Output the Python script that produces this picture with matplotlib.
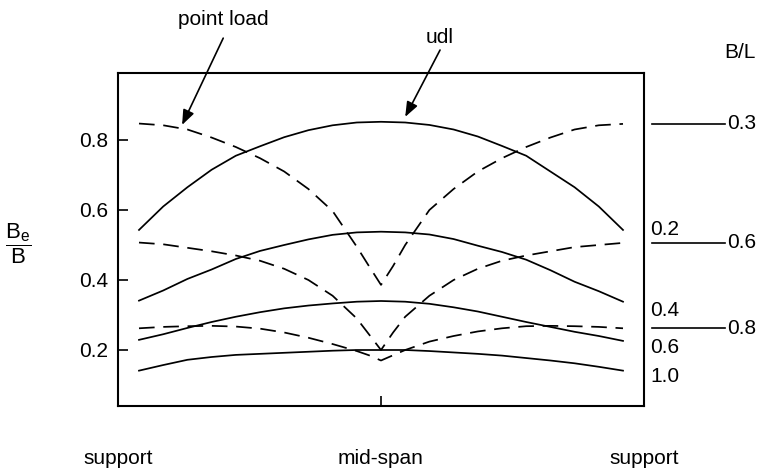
import numpy as np
import matplotlib
matplotlib.use("Agg")
import matplotlib.pyplot as plt

plt.rcParams['font.family'] = ['Liberation Sans', 'DejaVu Sans']
plt.rcParams['mathtext.fontset'] = 'custom'
plt.rcParams['mathtext.rm'] = 'Liberation Sans'
plt.rcParams['mathtext.it'] = 'Liberation Sans'

# span position: 0 = support, 0.5 = mid-span, 1 = support
pos_udl = [0.0, 0.05, 0.1, 0.15, 0.2, 0.25, 0.3, 0.35, 0.4, 0.45, 0.5,
           0.55, 0.6, 0.65, 0.7, 0.75, 0.8, 0.85, 0.9, 0.95, 1.0]
udl_02 = [0.543, 0.61, 0.665, 0.715, 0.755, 0.782, 0.808, 0.828, 0.842, 0.85, 0.852,
          0.85, 0.843, 0.83, 0.81, 0.783, 0.755, 0.71, 0.665, 0.61, 0.543]
udl_04 = [0.341, 0.37, 0.403, 0.43, 0.46, 0.483, 0.50, 0.516, 0.529, 0.536, 0.538,
          0.536, 0.53, 0.517, 0.498, 0.48, 0.458, 0.428, 0.395, 0.368, 0.338]
udl_06 = [0.229, 0.245, 0.263, 0.28, 0.295, 0.308, 0.319, 0.327, 0.333, 0.338, 0.34,
          0.338, 0.332, 0.322, 0.31, 0.295, 0.28, 0.266, 0.252, 0.24, 0.226]
udl_10 = [0.141, 0.157, 0.172, 0.18, 0.186, 0.189, 0.192, 0.195, 0.198, 0.2, 0.2,
          0.2, 0.197, 0.193, 0.189, 0.184, 0.177, 0.17, 0.162, 0.152, 0.141]

pos_pl = [0.0, 0.05, 0.1, 0.15, 0.2, 0.25, 0.3, 0.35, 0.4, 0.45, 0.475, 0.5,
          0.525, 0.55, 0.6, 0.65, 0.7, 0.75, 0.8, 0.85, 0.9, 0.95, 1.0]
pl_03 = [0.847, 0.842, 0.83, 0.807, 0.78, 0.748, 0.71, 0.66, 0.597, 0.495, 0.44, 0.386,
         0.44, 0.50, 0.60, 0.66, 0.71, 0.748, 0.78, 0.807, 0.83, 0.842, 0.846]
pl_06 = [0.507, 0.502, 0.492, 0.482, 0.47, 0.455, 0.432, 0.40, 0.355, 0.29, 0.245, 0.20,
         0.25, 0.295, 0.355, 0.40, 0.432, 0.455, 0.47, 0.482, 0.494, 0.50, 0.506]
pl_08 = [0.262, 0.266, 0.268, 0.269, 0.267, 0.261, 0.25, 0.235, 0.217, 0.197, 0.185, 0.17,
         0.185, 0.20, 0.224, 0.24, 0.253, 0.262, 0.268, 0.269, 0.268, 0.266, 0.262]

udl_labels = ['0.2', '0.4', '0.6', '1.0']
udl_label_y = [0.543, 0.314, 0.206, 0.123]
pl_labels = ['0.3', '0.6', '0.8']

yticks = [0.2, 0.4, 0.6, 0.8]
xtick_labels = ['support', 'mid-span', 'support']

fig = plt.figure(figsize=(7.63, 4.68), dpi=100)
ax = fig.add_axes([118 / 763, 1 - 406 / 468, 526 / 763, 333 / 468])
ax.set_xlim(-0.0434, 1.0434)
ax.set_ylim(0.04, 0.9914)

for s in ax.spines.values():
    s.set_linewidth(1.5)

lw = 1.25
for ys in [udl_02, udl_04, udl_06, udl_10]:
    ax.plot(pos_udl, ys, color='black', lw=lw)
for ys in [pl_03, pl_06, pl_08]:
    ax.plot(pos_pl, ys, color='black', lw=lw, dashes=(9, 5))

ax.set_yticks(yticks)
ax.set_yticklabels([f'{v:.1f}' for v in yticks])
ax.set_xticks([-0.0434, 0.5, 1.0434])
ax.set_xticklabels(xtick_labels)
ax.tick_params(axis='y', direction='in', length=7, width=1.2, pad=7, labelsize=15)
ax.tick_params(axis='x', direction='in', length=7, width=1.2, pad=31, labelsize=15)

# labels for udl curves
for lab, y in zip(udl_labels, udl_label_y):
    ax.text(1.056, y, lab, fontsize=15, ha='left', va='center', clip_on=False)

# labels for point load curves with leader lines
for lab, ys in zip(pl_labels, [pl_03, pl_06, pl_08]):
    ax.plot([1.06, 1.21], [ys[0], ys[0]], color='black', lw=1.2, clip_on=False)
    ax.text(1.215, ys[0], lab, fontsize=15, ha='left', va='center', clip_on=False)

ax.text(1.242, 1.051, 'B/L', fontsize=15, ha='center', va='center', clip_on=False)

# arrows
arrow = dict(arrowstyle='-|>,head_length=0.9,head_width=0.35', color='black', lw=1.2,
             shrinkA=0, shrinkB=0)
ax.annotate('', xy=(0.089, 0.843), xytext=(0.174, 1.091), arrowprops=arrow,
            annotation_clip=False)
ax.text(0.174, 1.143, 'point load', fontsize=15, ha='center', va='center', clip_on=False)
ax.annotate('', xy=(0.55, 0.866), xytext=(0.622, 1.057), arrowprops=arrow,
            annotation_clip=False)
ax.text(0.622, 1.094, 'udl', fontsize=15, ha='center', va='center', clip_on=False)

fig.text(18 / 763, 1 - 244 / 468, r'$\dfrac{\mathrm{B_e}}{\mathrm{B}}$', fontsize=16,
         ha='center', va='center')

fig.savefig('out.png', dpi=100)
